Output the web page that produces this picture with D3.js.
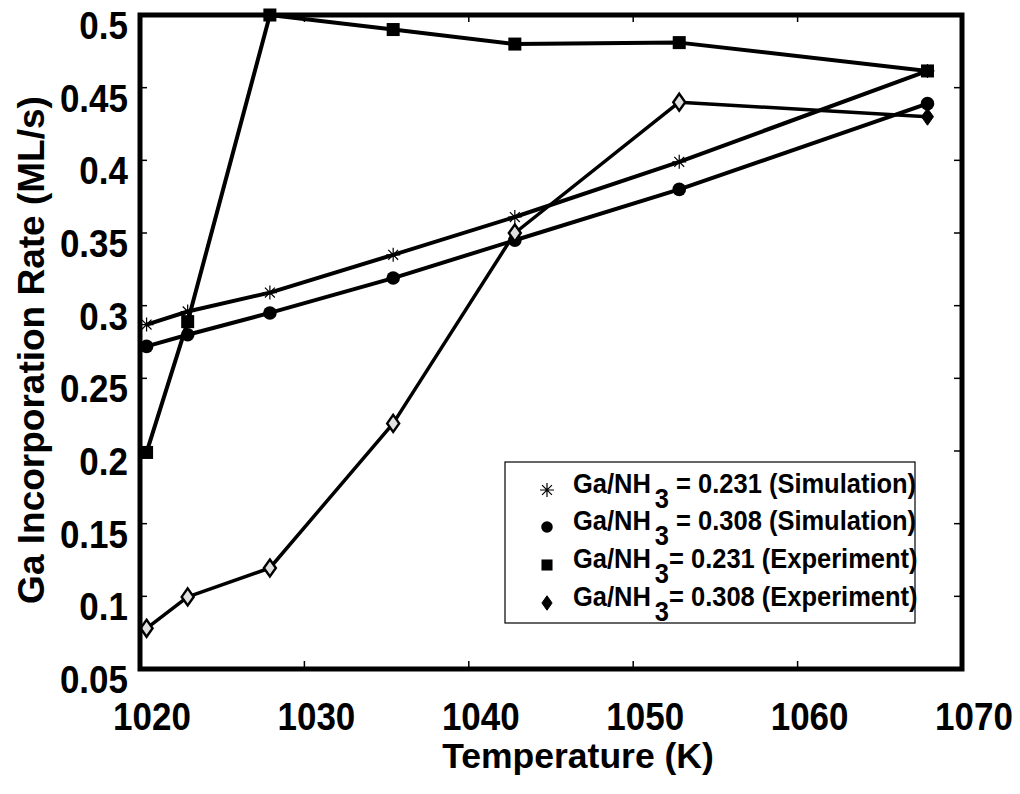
<!DOCTYPE html>
<html>
<head>
<meta charset="utf-8">
<script src="https://cdn.jsdelivr.net/npm/d3@7/dist/d3.min.js"></script>
<style>
  html, body { margin: 0; padding: 0; background: #fff; }
  svg { display: block; }
  text { font-family: "Liberation Sans", Arial, Helvetica, sans-serif; font-weight: bold; fill: #000; }
</style>
</head>
<body>
<svg id="chart" width="1020" height="794"></svg>
<script>
// Growth temperatures (K) shared by all four series
const temperature = [1020.4, 1022.9, 1027.9, 1035.4, 1042.8, 1052.8, 1067.9];

// Ga incorporation rate (ML/s)
const sim231 = [0.287, 0.296, 0.309, 0.335, 0.361, 0.399, 0.4615];
const sim308 = [0.272, 0.280, 0.295, 0.319, 0.345, 0.380, 0.439];
const exp231 = [0.199, 0.289, 0.500, 0.490, 0.480, 0.481, 0.4615];
const exp308 = [0.078, 0.0996, 0.1195, 0.219, 0.350, 0.440, 0.430];

const xTicks = [1020, 1030, 1040, 1050, 1060, 1070];
const yTicks = [0.05, 0.1, 0.15, 0.2, 0.25, 0.3, 0.35, 0.4, 0.45, 0.5];
const yTickLabels = ["0.05", "0.1", "0.15", "0.2", "0.25", "0.3", "0.35", "0.4", "0.45", "0.5"];

const seriesNames = ["sim231", "sim308", "exp231", "exp308"];
const seriesValues = [sim231, sim308, exp231, exp308];
const seriesMarkers = ["asterisk", "circle", "square", "diamond"];
const legendRatio = ["0.231", "0.308", "0.231", "0.308"];
const legendKind = ["Simulation", "Simulation", "Experiment", "Experiment"];
const legendGap = [" = ", " = ", "= ", "= "];

const svg = d3.select("#chart");
const plotLeft = 140, plotRight = 962, plotTop = 15, plotBottom = 669;

const x = d3.scaleLinear().domain([1020, 1070]).range([plotLeft, plotRight]);
const y = d3.scaleLinear().domain([0.05, 0.5]).range([plotBottom, plotTop]);

// Inward tick marks on all four sides
const tickG = svg.append("g").attr("stroke", "#000").attr("stroke-width", 1.5);
yTicks.forEach(v => {
  tickG.append("line").attr("x1", plotLeft).attr("x2", plotLeft + 7).attr("y1", y(v)).attr("y2", y(v));
  tickG.append("line").attr("x1", plotRight - 8).attr("x2", plotRight).attr("y1", y(v)).attr("y2", y(v));
});
xTicks.forEach(v => {
  tickG.append("line").attr("x1", x(v)).attr("x2", x(v)).attr("y1", plotBottom).attr("y2", plotBottom - 8);
  tickG.append("line").attr("x1", x(v)).attr("x2", x(v)).attr("y1", plotTop).attr("y2", plotTop + 7);
});

// Tick labels (slightly tall, narrow face)
svg.append("g").selectAll("text").data(yTicks).join("text")
  .attr("transform", d => `translate(128,${y(d) + 24}) scale(1,1.1)`)
  .attr("text-anchor", "end")
  .attr("font-size", 35)
  .text((d, i) => yTickLabels[i]);

svg.append("g").selectAll("text").data(xTicks).join("text")
  .attr("transform", d => `translate(${x(d) + 12},730) scale(1,1.1)`)
  .attr("text-anchor", "middle")
  .attr("font-size", 35)
  .text(d => d3.format("d")(d));

// Axis titles
svg.append("text")
  .attr("x", 578).attr("y", 768)
  .attr("text-anchor", "middle")
  .attr("font-size", 35.5)
  .text("Temperature (K)");

svg.append("text")
  .attr("transform", "translate(44,350) rotate(-90)")
  .attr("text-anchor", "middle")
  .attr("font-size", 37)
  .text("Ga Incorporation Rate (ML/s)");

// Series lines
const line = d3.line().x((d, i) => x(temperature[i])).y(d => y(d));
const lineWidths = [4, 4, 4, 3.5];
seriesValues.forEach((vals, k) => {
  svg.append("path")
    .attr("class", "line-" + seriesNames[k])
    .attr("d", line(vals))
    .attr("fill", "none")
    .attr("stroke", "#000")
    .attr("stroke-width", lineWidths[k])
    .attr("stroke-linejoin", "round");
});

// Marker drawing
function drawMarker(g, type, cx, cy, scale, filledDiamond) {
  if (type === "asterisk") {
    const r = 7 * scale;
    const p = d3.path();
    for (let a = 0; a < 4; a++) {
      const t = a * Math.PI / 4;
      p.moveTo(cx - r * Math.cos(t), cy - r * Math.sin(t));
      p.lineTo(cx + r * Math.cos(t), cy + r * Math.sin(t));
    }
    g.append("path").attr("d", p.toString()).attr("stroke", "#000").attr("stroke-width", 1.2).attr("fill", "none");
  } else if (type === "circle") {
    g.append("circle").attr("cx", cx).attr("cy", cy).attr("r", 6.8 * scale).attr("fill", "#000");
  } else if (type === "square") {
    const s = 13 * scale;
    g.append("rect").attr("x", cx - s / 2).attr("y", cy - s / 2).attr("width", s).attr("height", s).attr("fill", "#000");
  } else if (type === "diamond") {
    const w = 6 * scale, h = 8.5 * scale;
    g.append("path")
      .attr("d", `M${cx},${cy - h}L${cx + w},${cy}L${cx},${cy + h}L${cx - w},${cy}Z`)
      .attr("fill", filledDiamond ? "#000" : "#e0e0e0")
      .attr("stroke", "#000")
      .attr("stroke-width", filledDiamond ? 1 : 2.4);
  }
}

const markerG = svg.append("g");
seriesValues.forEach((vals, k) => {
  vals.forEach((v, i) => {
    drawMarker(markerG, seriesMarkers[k], x(temperature[i]), y(v), 1, i === vals.length - 1);
  });
});

// Plot frame
svg.append("rect")
  .attr("x", plotLeft).attr("y", plotTop)
  .attr("width", plotRight - plotLeft).attr("height", plotBottom - plotTop)
  .attr("fill", "none").attr("stroke", "#000").attr("stroke-width", 5);

// Legend
const lg = svg.append("g");
lg.append("rect")
  .attr("x", 505).attr("y", 462).attr("width", 410).attr("height", 161)
  .attr("fill", "#fff").attr("stroke", "#000").attr("stroke-width", 1.2);

const rowY = [488, 525, 563, 601];
seriesNames.forEach((name, k) => {
  const scale = seriesMarkers[k] === "asterisk" ? 1 : 0.85;
  drawMarker(lg, seriesMarkers[k], 547, rowY[k] + 2, scale, true);
  const t = lg.append("text")
    .attr("transform", `translate(573,${rowY[k] + 5}) scale(1,1.08)`)
    .attr("font-size", 25.5);
  t.append("tspan").text("Ga/NH");
  t.append("tspan").attr("dx", 4).attr("dy", 14).text("3");
  t.append("tspan").attr("dy", -14).text(legendGap[k] + legendRatio[k] + " (" + legendKind[k] + ")");
});
</script>
</body>
</html>
